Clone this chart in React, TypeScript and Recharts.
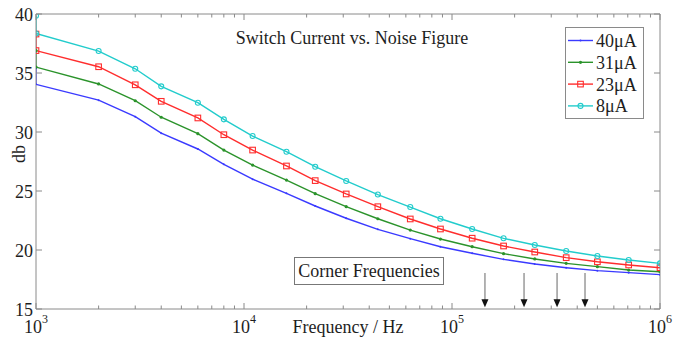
import React from 'react';
import { LineChart, Line, XAxis, YAxis, ReferenceLine } from 'recharts';

// frequency points (Hz); the first 1 kHz point is the start of the vertical lead-in segment
const frequencies = [1000, 1000, 2000, 3000, 4000, 6000, 8000, 11000, 16000, 22000, 31000, 44000, 63000, 88000, 125000, 177000, 250000, 354000, 500000, 707000, 1000000];

const nf40uA = [35.4, 34.04, 32.7, 31.3, 29.9, 28.56, 27.26, 26.0, 24.8, 23.73, 22.69, 21.75, 20.96, 20.28, 19.72, 19.21, 18.81, 18.5, 18.25, 18.08, 17.91];
const nf31uA = [36.9, 35.5, 34.07, 32.65, 31.25, 29.86, 28.47, 27.2, 25.93, 24.77, 23.67, 22.65, 21.69, 20.93, 20.28, 19.69, 19.24, 18.87, 18.59, 18.3, 18.16];
const nf23uA = [38.3, 36.9, 35.53, 34.0, 32.6, 31.19, 29.77, 28.47, 27.12, 25.88, 24.75, 23.67, 22.63, 21.78, 21.0, 20.34, 19.83, 19.35, 19.0, 18.73, 18.5];
const nf8uA = [39.85, 38.35, 36.86, 35.36, 33.87, 32.48, 31.07, 29.66, 28.33, 27.06, 25.85, 24.7, 23.64, 22.65, 21.78, 20.99, 20.42, 19.92, 19.49, 19.15, 18.87];

const xTicks = [
  1000, 2000, 3000, 4000, 5000, 6000, 7000, 8000, 9000,
  10000, 20000, 30000, 40000, 50000, 60000, 70000, 80000, 90000,
  100000, 200000, 300000, 400000, 500000, 600000, 700000, 800000, 900000,
  1000000,
];
const decades = [1000, 10000, 100000, 1000000];
const yTicks = [15, 20, 25, 30, 35, 40];

// corner frequency markers (Hz) and the arrow's start / tip in dB
const cornerFreqs = [144000, 222000, 320000, 436000];
const arrowFrom = 18.05;
const arrowTo = 15.15;

const seriesNames = ['40μA', '31μA', '23μA', '8μA'];

const data = frequencies.map((f, i) => ({
  f,
  s40: nf40uA[i],
  s31: nf31uA[i],
  s23: nf23uA[i],
  s8: nf8uA[i],
}));

const FONT = '"Liberation Serif", "Times New Roman", serif';
const AXIS = '#8a8a8a';
const TEXT = '#1e1e1e';

const COLORS = {
  s40: '#3a3aff',
  s31: '#2b932b',
  s23: '#ff2d2d',
  s8: '#22cccc',
};

const marker = (kind: string, color: string, cx: number, cy: number, key?: string) => {
  if (kind === 'square') {
    return <rect key={key} x={cx - 2.8} y={cy - 2.8} width={5.6} height={5.6} fill="none" stroke={color} strokeWidth={1.1} />;
  }
  if (kind === 'circle') {
    return <circle key={key} cx={cx} cy={cy} r={2.5} fill="none" stroke={color} strokeWidth={1.1} />;
  }
  if (kind === 'dot') {
    return <circle key={key} cx={cx} cy={cy} r={1.6} fill={color} />;
  }
  return <circle key={key} cx={cx} cy={cy} r={1} fill={color} />;
};

const dotFor = (kind: string, color: string) => (p: any) => {
  if (p.cx == null || p.cy == null) return <g key={`e-${p.index}`} />;
  return marker(kind, color, p.cx, p.cy, `m-${kind}-${p.index}`);
};

const BottomTick = (props: any) => {
  const { x, y, payload } = props;
  const v = payload.value;
  const major = decades.includes(v);
  const exp = Math.round(Math.log10(v));
  return (
    <g>
      <line x1={x} x2={x} y1={y} y2={y - (major ? 6 : 3.5)} stroke={AXIS} />
      {major && (
        <text x={x} y={y + 24} textAnchor="middle" fontFamily={FONT} fontSize={18} fill={TEXT}>
          10
          <tspan dy={-10} fontSize={12}>{exp}</tspan>
        </text>
      )}
    </g>
  );
};

const TopTick = (props: any) => {
  const { x, y, payload } = props;
  const major = decades.includes(payload.value);
  return <line x1={x} x2={x} y1={y} y2={y + (major ? 6 : 3.5)} stroke={AXIS} />;
};

const LeftTick = (props: any) => {
  const { x, y, payload } = props;
  return (
    <g>
      <line x1={x} x2={x + 6} y1={y} y2={y} stroke={AXIS} />
      <text x={x - 3} y={y + 6.5} textAnchor="end" fontFamily={FONT} fontSize={18} fill={TEXT}>
        {payload.value}
      </text>
    </g>
  );
};

const RightTick = (props: any) => {
  const { x, y } = props;
  return <line x1={x} x2={x - 6} y1={y} y2={y} stroke={AXIS} />;
};

const Arrow = (props: any) => {
  const { x1, y1, x2, y2 } = props;
  return (
    <g>
      <line x1={x1} y1={y1} x2={x2} y2={y2 - 6} stroke="#9a9a9a" strokeWidth={1.5} />
      <polygon points={`${x2 - 3.5},${y2 - 8} ${x2 + 3.5},${y2 - 8} ${x2},${y2}`} fill="#111" />
    </g>
  );
};

const series = [
  { key: 's40', kind: 'point' },
  { key: 's31', kind: 'dot' },
  { key: 's23', kind: 'square' },
  { key: 's8', kind: 'circle' },
];

export default function App() {
  return (
    <div style={{ position: 'absolute', left: 0, top: 0, width: 688, height: 343, background: '#fff' }}>
      <LineChart width={688} height={343} data={data} margin={{ top: 0, right: 0, bottom: 0, left: 0 }}>
        <XAxis
          dataKey="f"
          type="number"
          scale="log"
          domain={[1000, 1000000]}
          allowDataOverflow
          ticks={xTicks}
          interval={0}
          height={34}
          tickSize={0}
          tickMargin={0}
          tickLine={false}
          axisLine={{ stroke: AXIS }}
          tick={BottomTick}
        />
        <XAxis
          xAxisId="top"
          orientation="top"
          dataKey="f"
          type="number"
          scale="log"
          domain={[1000, 1000000]}
          allowDataOverflow
          ticks={xTicks}
          interval={0}
          height={14}
          tickSize={0}
          tickMargin={0}
          tickLine={false}
          axisLine={{ stroke: AXIS }}
          tick={TopTick}
        />
        <YAxis
          type="number"
          domain={[15, 40]}
          allowDataOverflow
          ticks={yTicks}
          interval={0}
          width={36}
          tickSize={0}
          tickMargin={0}
          tickLine={false}
          axisLine={{ stroke: AXIS }}
          tick={LeftTick}
        />
        <YAxis
          yAxisId="right"
          orientation="right"
          type="number"
          domain={[15, 40]}
          allowDataOverflow
          ticks={yTicks}
          interval={0}
          width={28}
          tickSize={0}
          tickMargin={0}
          tickLine={false}
          axisLine={{ stroke: AXIS }}
          tick={RightTick}
        />
        {cornerFreqs.map((cf) => (
          <ReferenceLine
            key={cf}
            segment={[{ x: cf, y: arrowFrom }, { x: cf, y: arrowTo }]}
            shape={Arrow}
          />
        ))}
        {series.map((s) => (
          <Line
            key={s.key}
            dataKey={s.key}
            type="linear"
            stroke={(COLORS as any)[s.key]}
            strokeWidth={1.4}
            dot={dotFor(s.kind, (COLORS as any)[s.key])}
            activeDot={false}
            isAnimationActive={false}
          />
        ))}
      </LineChart>

      <svg width={688} height={343} style={{ position: 'absolute', left: 0, top: 0, pointerEvents: 'none' }}>
        <text x={352} y={44} textAnchor="middle" fontFamily={FONT} fontSize={18} fill={TEXT}>
          Switch Current vs. Noise Figure
        </text>
        <text x={348} y={333} textAnchor="middle" fontFamily={FONT} fontSize={18} fill={TEXT}>
          Frequency / Hz
        </text>
        <text transform="translate(25,154) rotate(-90)" textAnchor="middle" fontFamily={FONT} fontSize={18} fill={TEXT}>
          db
        </text>

        <rect x={294.5} y={257.5} width={149} height={27} fill="#fff" stroke="#777" />
        <text x={369} y={277} textAnchor="middle" fontFamily={FONT} fontSize={18} fill={TEXT}>
          Corner Frequencies
        </text>

        <rect x={565.5} y={27.5} width={78} height={91} fill="#fff" stroke="#8a8a8a" />
        {series.map((s, i) => {
          const cy = 40.5 + i * 21.8;
          const color = (COLORS as any)[s.key];
          return (
            <g key={s.key}>
              <line x1={568} x2={593} y1={cy} y2={cy} stroke={color} strokeWidth={1.4} />
              {marker(s.kind, color, 580.5, cy)}
              <text x={596} y={cy + 6.5} fontFamily={FONT} fontSize={18} fill={TEXT}>
                {seriesNames[i]}
              </text>
            </g>
          );
        })}
      </svg>
    </div>
  );
}
